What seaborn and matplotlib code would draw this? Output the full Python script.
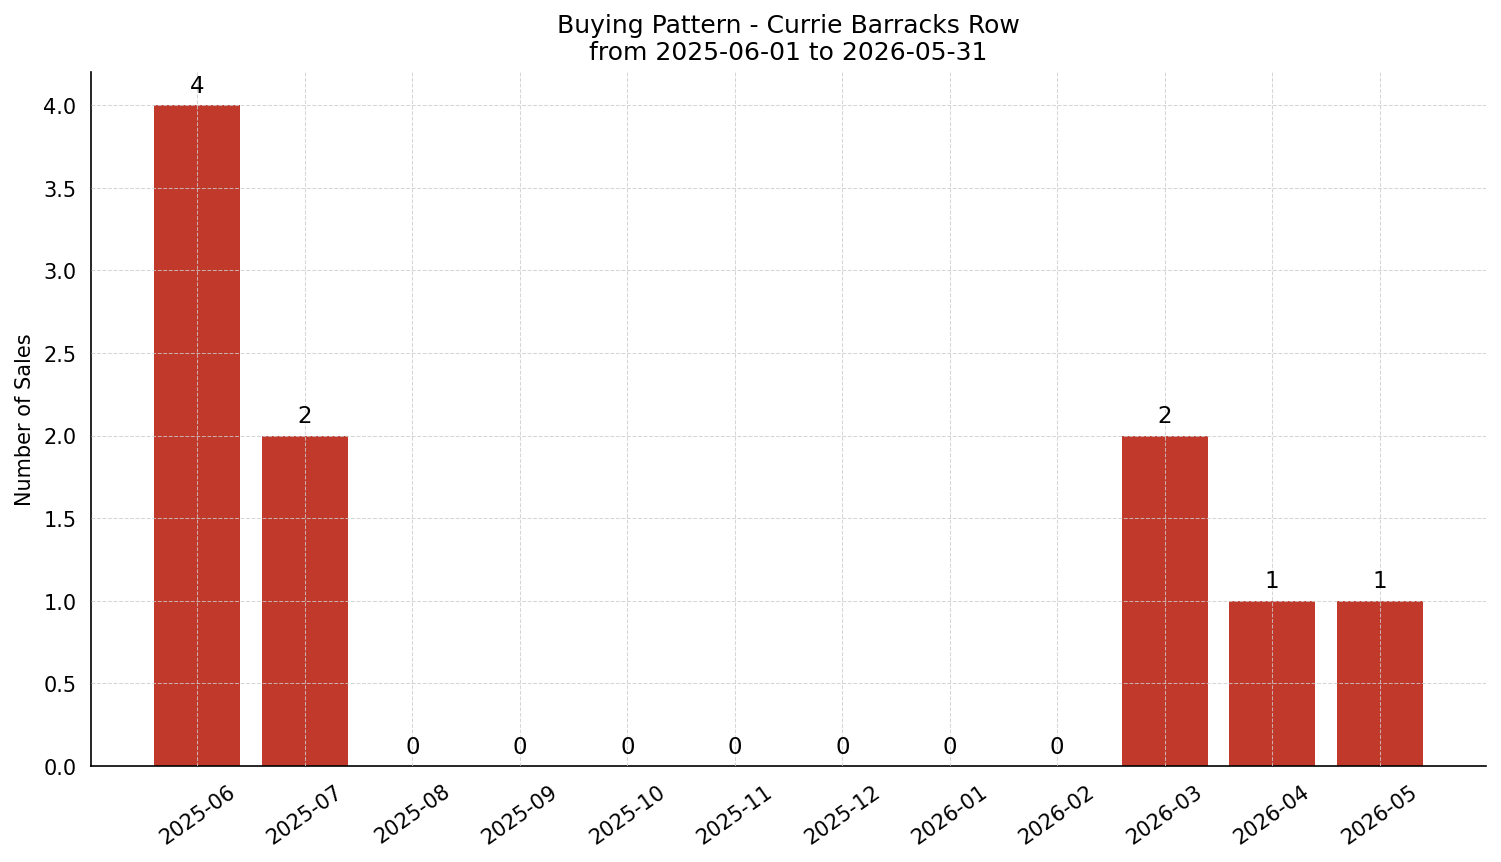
import matplotlib
matplotlib.use("Agg")
import matplotlib.pyplot as plt
import seaborn as sns
import pandas as pd

months = ["2025-06", "2025-07", "2025-08", "2025-09", "2025-10", "2025-11",
          "2025-12", "2026-01", "2026-02", "2026-03", "2026-04", "2026-05"]
sales = [4, 2, 0, 0, 0, 0, 0, 0, 0, 2, 1, 1]

sns.set_style("white")
plt.rcParams.update({
    'font.family': ['DejaVu Sans'],
    'text.color': 'black', 'axes.labelcolor': 'black',
    'xtick.color': 'black', 'ytick.color': 'black',
    'axes.edgecolor': 'black',
    'xtick.major.size': 3.5, 'ytick.major.size': 3.5,
    'xtick.major.width': 0.8, 'ytick.major.width': 0.8,
    'axes.linewidth': 0.8,
})

df = pd.DataFrame({"month": months, "sales": sales})
fig, ax = plt.subplots(figsize=(10.007, 5.753), dpi=150)
sns.barplot(data=df, x="month", y="sales", color="#c0392b", saturation=1,
            width=0.8, linewidth=0, ax=ax)

for c in ax.containers:
    ax.bar_label(c, labels=[str(v) for v in sales], padding=4, fontsize=11)

n = len(months)
span = (n - 1) + 0.8
ax.set_xlim(-0.4 - 0.05 * span, n - 1 + 0.4 + 0.05 * span)
ax.set_ylim(0, max(sales) * 1.05)
ax.grid(True, linestyle="--", color="#cccccc", alpha=0.8, linewidth=0.5)
ax.set_axisbelow(False)
ax.set_title("Buying Pattern - Currie Barracks Row\nfrom 2025-06-01 to 2026-05-31", fontsize=12)
ax.set_xlabel("")
ax.set_ylabel("Number of Sales", fontsize=10)
ax.tick_params(axis="x", rotation=35, labelsize=10)
ax.tick_params(axis="y", labelsize=10)
sns.despine(ax=ax)
W, H = 1501, 863
fig.subplots_adjust(left=91 / W, right=1486 / W, top=1 - 73 / H, bottom=1 - 767 / H)
fig.savefig("out.png", dpi=150)
